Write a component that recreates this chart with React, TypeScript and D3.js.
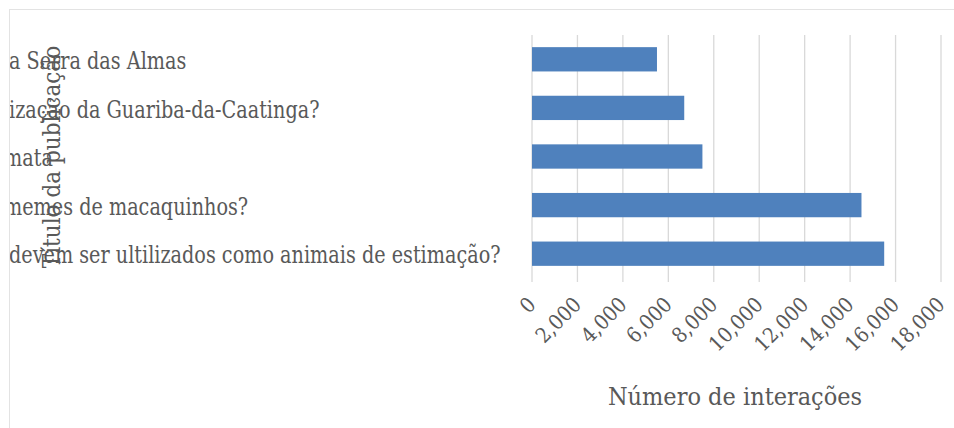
import React from "react";
import * as d3 from "d3";

const categories = [
  "a Serra das Almas",
  "ização da Guariba-da-Caatinga?",
  "mata",
  "memes de macaquinhos?",
  "devem ser ultilizados como animais de estimação?",
];
const values = [5500, 6700, 7500, 14500, 15500];
const xTickValues = [0, 2000, 4000, 6000, 8000, 10000, 12000, 14000, 16000, 18000];
const labelShift = [0, 0, -5, -5, 0];

const W = 954;
const H = 428;
const FONT = "'DejaVu Serif Condensed', 'DejaVu Serif', serif";
const TEXT = "#595959";

export default function App() {
  const x = d3.scaleLinear().domain([0, 18000]).range([532, 941]);
  const y = d3
    .scaleBand<string>()
    .domain(categories)
    .range([35, 278])
    .paddingInner(0.5)
    .paddingOuter(0.25);
  const fmt = d3.format(",");

  return (
    <svg
      width={W}
      height={H}
      style={{ position: "absolute", left: 0, top: 0, background: "#fff" }}
    >
      <defs>
        <clipPath id="frameClip">
          <rect x={10} y={10} width={W} height={H} />
        </clipPath>
      </defs>
      <rect x={9.5} y={9.5} width={W} height={H} fill="#fff" stroke="#e3e3e3" />
      {xTickValues.map((t) => (
        <line
          key={t}
          x1={x(t)}
          x2={x(t)}
          y1={35}
          y2={282}
          stroke="#d9d9d9"
          strokeWidth={1.3}
        />
      ))}
      {categories.map((c, i) => (
        <rect
          key={c}
          x={x(0)}
          y={y(c)}
          width={x(values[i]) - x(0)}
          height={y.bandwidth()}
          fill="#4f81bd"
        />
      ))}
      <g clipPath="url(#frameClip)">
        {categories.map((c, i) => (
          <g
            key={c}
            transform={`translate(${9 + labelShift[i]},${(y(c) ?? 0) + y.bandwidth() / 2 + 1}) scale(0.855,1)`}
          >
            <text
              x={0}
              dy="0.35em"
              fontFamily={FONT}
              fontSize={25}
              fill={TEXT}
            >
              {c}
            </text>
          </g>
        ))}
      </g>
      <text
        transform={`translate(60,157) rotate(-90)`}
        textAnchor="middle"
        fontFamily={FONT}
        fontSize={24}
        fill={TEXT}
      >
        Título da publicação
      </text>
      {xTickValues.map((t) => (
        <text
          key={t}
          transform={`translate(${x(t) + 5},${306}) rotate(-45)`}
          textAnchor="end"
          fontFamily={FONT}
          fontSize={21}
          fill={TEXT}
        >
          {fmt(t)}
        </text>
      ))}
      <text
        x={735}
        y={405}
        textAnchor="middle"
        fontFamily={FONT}
        fontSize={25}
        fill={TEXT}
      >
        Número de interações
      </text>
    </svg>
  );
}
